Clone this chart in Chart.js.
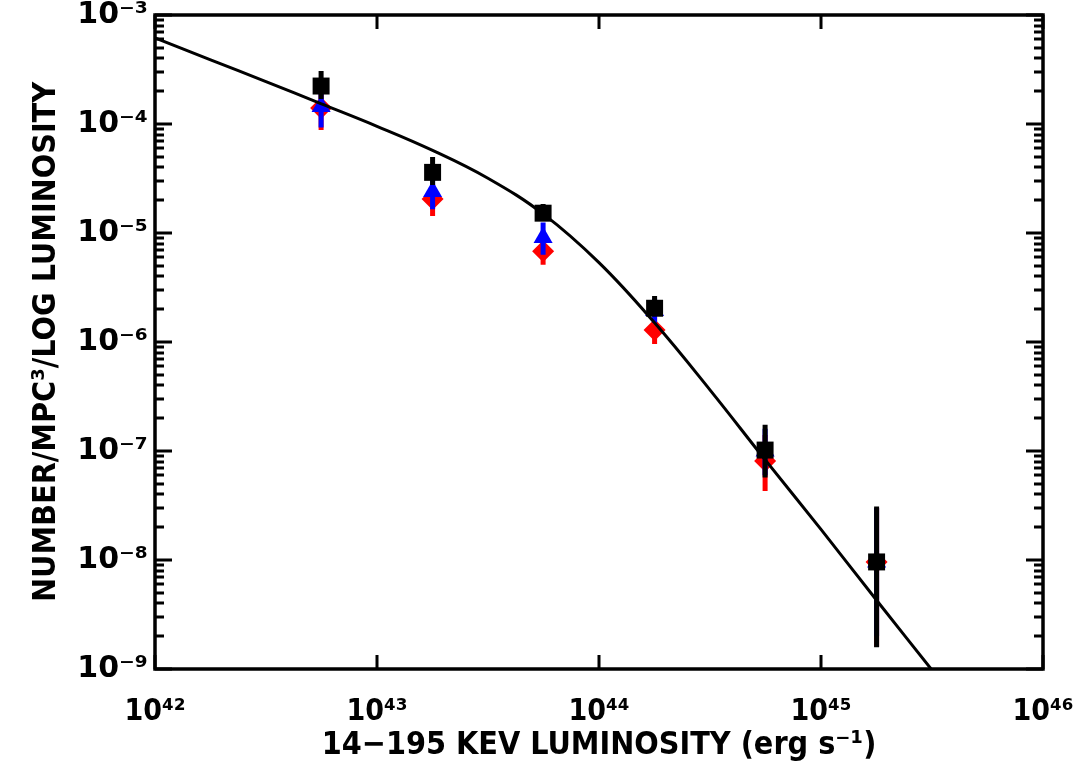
<!DOCTYPE html>
<html>
<head>
<meta charset="utf-8">
<script src="https://cdn.jsdelivr.net/npm/chart.js@4"></script>
<style>
html, body { margin: 0; padding: 0; background: #fff; }
#wrap { width: 1083px; height: 771px; }
</style>
</head>
<body>
<div id="wrap"><canvas id="myChart"></canvas></div>
<script>
// bin centres, 14-195 keV luminosity (erg/s)
var binL = [5.6e42, 1.78e43, 5.6e43, 1.78e44, 5.6e44, 1.78e45];

// black squares
var blackVal = [2.23e-4, 3.6e-5, 1.52e-5, 2.04e-6, 1.02e-7, 9.6e-9];
var blackLo  = [1.7e-4, 2.75e-5, 1.35e-5, 1.75e-6, 5.7e-8, 1.58e-9];
var blackHi  = [3.06e-4, 4.97e-5, 1.85e-5, 2.64e-6, 1.74e-7, 3.1e-8];

// blue triangles
var blueVal = [1.45e-4, 2.4e-5, 9.1e-6, 1.95e-6, 1.0e-7, 9.6e-9];
var blueLo  = [9.3e-5, 1.65e-5, 6.3e-6, 1.5e-6, 6.0e-8, 2.0e-9];
var blueHi  = [2.1e-4, 3.3e-5, 1.25e-5, 2.5e-6, 1.6e-7, 3.0e-8];

// red diamonds
var redVal = [1.4e-4, 2.05e-5, 6.8e-6, 1.29e-6, 8.1e-8, 9.6e-9];
var redLo  = [8.8e-5, 1.43e-5, 5.1e-6, 9.6e-7, 4.3e-8, 1.6e-9];
var redHi  = [1.9e-4, 2.8e-5, 9.0e-6, 1.7e-6, 1.4e-7, 3.0e-8];

// fitted curve
var fitL   = [1e42, 1.78e42, 3.16e42, 5.62e42, 1e43, 1.78e43, 3.16e43, 5.62e43,
              1e44, 1.78e44, 3.16e44, 5.62e44, 1e45, 1.78e45, 3.16e45];
var fitPhi = [6.17e-4, 3.88e-4, 2.45e-4, 1.53e-4, 9.53e-5, 5.73e-5, 3.18e-5, 1.49e-5,
              5.35e-6, 1.5e-6, 3.64e-7, 8.24e-8, 1.91e-8, 4.27e-9, 9.8e-10];

var xTicks = [1e42, 1e43, 1e44, 1e45, 1e46];
var xTickLabels = ['10\u2074\u00b2', '10\u2074\u00b3', '10\u2074\u2074', '10\u2074\u2075', '10\u2074\u2076'];
var yTicks = [1e-9, 1e-8, 1e-7, 1e-6, 1e-5, 1e-4, 1e-3];
var yTickLabels = ['10\u207b\u2079', '10\u207b\u2078', '10\u207b\u2077', '10\u207b\u2076',
                   '10\u207b\u2075', '10\u207b\u2074', '10\u207b\u00b3'];

function pts(xs, ys) {
  return xs.map(function (x, i) { return { x: x, y: ys[i] }; });
}
function bars(xs, lo, hi) {
  var out = [];
  xs.forEach(function (x, i) {
    out.push({ x: x, y: lo[i] }, { x: x, y: hi[i] }, { x: x, y: null });
  });
  return out;
}

// box round the plot with inward ticks, IDL style
var frame = {
  id: 'frame',
  afterDraw: function (chart) {
    var c = chart.ctx, a = chart.chartArea;
    var xs = chart.scales.x, ys = chart.scales.y;
    c.save();
    c.strokeStyle = '#000';
    c.lineWidth = 3;
    c.lineCap = 'butt';
    c.beginPath();
    xTicks.forEach(function (v) {
      var p = Math.round(xs.getPixelForValue(v));
      c.moveTo(p, a.bottom); c.lineTo(p, a.bottom - 14);
      c.moveTo(p, a.top); c.lineTo(p, a.top + 14);
    });
    yTicks.forEach(function (v) {
      for (var k = 1; k <= 9; k++) {
        var val = v * k;
        if (val > 1e-3) break;
        var p = Math.round(ys.getPixelForValue(val));
        var len = k === 1 ? 17 : 9;
        c.moveTo(a.left, p); c.lineTo(a.left + len, p);
        c.moveTo(a.right, p); c.lineTo(a.right - len, p);
      }
    });
    c.stroke();
    c.lineWidth = 3.5;
    c.strokeRect(a.left, a.top, a.right - a.left, a.bottom - a.top);
    c.restore();
  }
};

var ctx = document.getElementById('myChart').getContext('2d');
var myChart = new Chart(ctx, {
  type: 'scatter',
  data: {
    datasets: [
      {
        data: pts(binL, blackVal),
        pointStyle: 'rect', pointRadius: 12,
        backgroundColor: '#000', borderColor: '#000', borderWidth: 0,
        order: 0
      },
      {
        data: pts(fitL, fitPhi),
        showLine: true, pointRadius: 0, borderColor: '#000', borderWidth: 3,
        tension: 0.4,
        order: 1
      },
      {
        data: bars(binL, blackLo, blackHi),
        showLine: true, spanGaps: false, pointRadius: 0,
        borderColor: '#000', borderWidth: 5,
        order: 2
      },
      {
        data: pts(binL, blueVal),
        pointStyle: 'triangle', pointRadius: 11,
        backgroundColor: '#0000ff', borderColor: '#0000ff', borderWidth: 0,
        order: 3
      },
      {
        data: bars(binL, blueLo, blueHi),
        showLine: true, spanGaps: false, pointRadius: 0,
        borderColor: '#0000ff', borderWidth: 5,
        order: 4
      },
      {
        data: pts(binL, redVal),
        pointStyle: 'rectRot', pointRadius: 11,
        backgroundColor: '#ff0000', borderColor: '#ff0000', borderWidth: 0,
        order: 5
      },
      {
        data: bars(binL, redLo, redHi),
        showLine: true, spanGaps: false, pointRadius: 0,
        borderColor: '#ff0000', borderWidth: 5,
        order: 6
      }
    ]
  },
  options: {
    responsive: true,
    maintainAspectRatio: false,
    animation: false,
    devicePixelRatio: 1,
    layout: { padding: { top: 15, right: 40, left: 0, bottom: 0 } },
    plugins: {
      legend: { display: false },
      tooltip: { enabled: false }
    },
    scales: {
      x: {
        type: 'logarithmic',
        min: 1e42, max: 1e46,
        afterBuildTicks: function (s) { s.ticks = xTicks.map(function (v) { return { value: v }; }); },
        afterFit: function (s) { s.height = 102; s.paddingLeft = 0; s.paddingRight = 0; },
        grid: { display: false, drawTicks: false, tickLength: 0 },
        border: { display: false },
        ticks: {
          padding: 25, color: '#000', maxRotation: 0, autoSkip: false,
          font: { family: 'DejaVu Sans Condensed', weight: 'bold', size: 30 },
          callback: function (v, i) { return xTickLabels[i]; }
        },
        title: {
          display: true, text: '14\u2212195 KEV LUMINOSITY (erg s\u207b\u00b9)', color: '#000',
          font: { family: 'DejaVu Sans Condensed', weight: 'bold', size: 32 },
          padding: { top: 0, bottom: 6 }
        }
      },
      y: {
        type: 'logarithmic',
        min: 1e-9, max: 1e-3,
        afterBuildTicks: function (s) { s.ticks = yTicks.map(function (v) { return { value: v }; }); },
        afterFit: function (s) { s.width = 155; s.paddingTop = 0; s.paddingBottom = 0; },
        grid: { display: false, drawTicks: false, tickLength: 0 },
        border: { display: false },
        ticks: {
          padding: 7, color: '#000', autoSkip: false,
          font: { family: 'DejaVu Sans', weight: 'bold', size: 30 },
          callback: function (v, i) { return yTickLabels[i]; }
        },
        title: {
          display: true, text: 'NUMBER/MPC\u00b3/LOG LUMINOSITY', color: '#000',
          font: { family: 'DejaVu Sans Condensed', weight: 'bold', size: 32 },
          padding: { top: 27, bottom: 0 }
        }
      }
    }
  },
  plugins: [frame]
});
</script>
</body>
</html>
